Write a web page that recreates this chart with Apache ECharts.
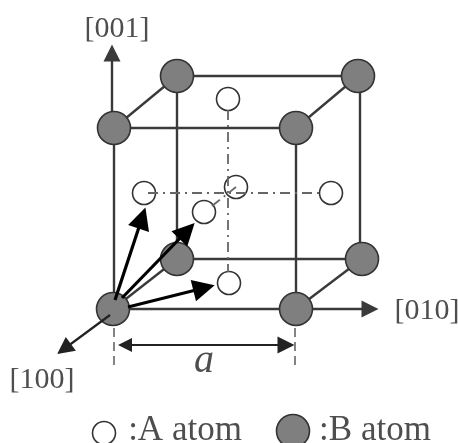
<!DOCTYPE html>
<html><head><meta charset="utf-8">
<style>html,body{margin:0;padding:0;background:#fff}#c{width:458px;height:443px;filter:blur(0.7px)}</style>
<script src="https://cdn.jsdelivr.net/npm/echarts@6/dist/echarts.min.js"></script>
</head><body><div id="c"></div>
<script>
const bAtoms=[[177,76],[358,76],[114,128],[296,128],[177,259],[362,259],[113,309],[296,309]];
const aAtoms=[[228,99],[144,193],[331,193],[236,187],[204,212],[229,283]];
const legendAAtom=[[104,433]];
const legendBAtom=[[293,431]];
const cubeEdges=[
 [[114,128],[296,128]],[[177,76],[358,76]],[[114,128],[177,76]],[[296,128],[358,76]],
 [[114,128],[114,309]],[[296,128],[296,309]],[[177,76],[177,259]],[[360,76],[360,259]],
 [[113,309],[296,309]],[[177,259],[362,259]],[[113,309],[177,259]],[[296,309],[362,259]]];
const dashDotLines=[[[148,193],[320,193]],[[228,110],[228,272]],[[212,206],[236,187]]];
const dimensionTicks=[[[114,328],[114,365]],[[295,328],[295,365]]];
const axisArrowsBehind=[[[112,128],[112,53]],[[296,309],[370,309]]];
const axisArrowFront=[[[110,315],[64,349]]];
const vectorArrows=[[[115,300],[142,218]],[[122,298],[187,231]],[[128,307],[204,288]]];
const dimensionArrow=[[[125,345],[286,345]]];
const axisLabels=[['[001]',117,29],['[010]',427,311],['[100]',42,380]];
const latticeLabel=[['a',204,361]];
const legendLabels=[[':A atom',185,431],[':B atom',375,431]];

const serif='"Liberation Serif","Times New Roman",serif';
const segs=(name,arr,style,extra)=>Object.assign({name,type:'lines',coordinateSystem:'cartesian2d',polyline:false,
  lineStyle:Object.assign({opacity:1,curveness:0},style),symbol:['none','none'],silent:true,
  data:arr.map(c=>({coords:c}))},extra||{});
const atoms=(name,arr,size,color,border,bw,z)=>({name,type:'scatter',data:arr,symbol:'circle',symbolSize:size,z,silent:true,clip:false,
  itemStyle:{color,borderColor:border,borderWidth:bw,opacity:1}});
const texts=(name,arr,size,style)=>({name,type:'scatter',data:arr.map(d=>({value:[d[1],d[2]],name:d[0]})),symbolSize:1,z:10,silent:true,
  itemStyle:{color:'transparent'},
  label:{show:true,position:'inside',formatter:p=>p.name,fontFamily:serif,fontSize:size,fontStyle:style||'normal',color:'#222'}});

const chart=echarts.init(document.getElementById('c'),null,{renderer:'canvas'});
chart.setOption({
 animation:false,
 grid:{left:0,right:0,top:0,bottom:0},
 xAxis:{type:'value',min:0,max:458,show:false},
 yAxis:{type:'value',min:0,max:443,inverse:true,show:false},
 series:[
  segs('edges',cubeEdges,{color:'#3a3a3a',width:2.4},{z:1}),
  segs('axes behind',axisArrowsBehind,{color:'#3a3a3a',width:2.4},{z:1,symbol:['none','triangle'],symbolSize:[15,17]}),
  atoms('A atoms',aAtoms.concat(legendAAtom),23,'#fff','#333',1.6,2),
  atoms('B atoms',bAtoms.concat(legendBAtom),33,'#7f7f7f','#333',1.6,3),
  segs('dash',dashDotLines,{color:'#666',width:1.8,type:[10,5,2,5]},{z:4}),
  segs('ticks',dimensionTicks,{color:'#777',width:1.8,type:[9,5]},{z:4}),
  segs('axis front',axisArrowFront,{color:'#222',width:2.2},{z:5,symbol:['none','triangle'],symbolSize:[15,17]}),
  segs('vectors',vectorArrows,{color:'#000',width:3.2},{z:6,symbol:['none','triangle'],symbolSize:[15,22]}),
  segs('dimension',dimensionArrow,{color:'#222',width:2.2},{z:5,symbol:['triangle','triangle'],symbolSize:[14,17]}),
  texts('axis labels',axisLabels,30),
  texts('lattice',latticeLabel,40,'italic'),
  texts('legend',legendLabels,35)
 ]
});
</script></body></html>
